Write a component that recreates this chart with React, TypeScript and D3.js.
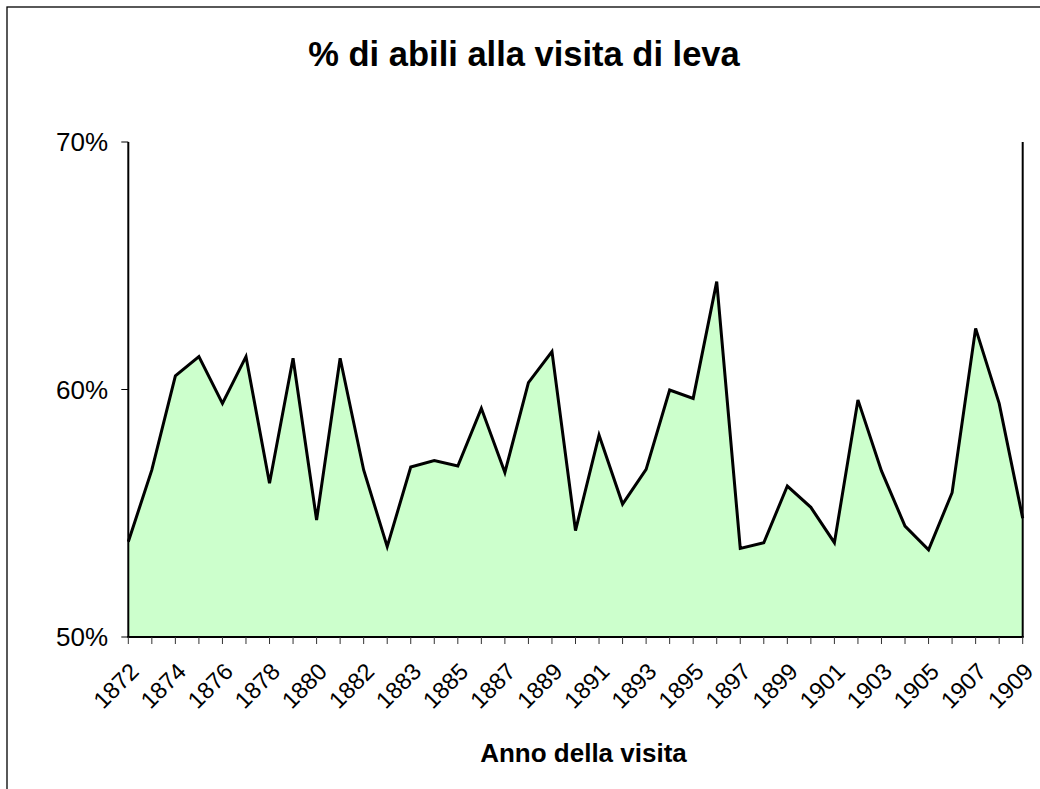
import React from "react";
import * as d3 from "d3";

const categories: string[] = [
  "1872", "1873", "1874", "1875", "1876", "1877", "1878", "1879", "1880", "1881",
  "1882", "1882", "1883", "1884", "1885", "1886", "1887", "1888", "1889", "1890",
  "1891", "1892", "1893", "1894", "1895", "1896", "1897", "1898", "1899", "1900",
  "1901", "1902", "1903", "1904", "1905", "1906", "1907", "1908", "1909",
];

const abili: number[] = [
  53.85, 56.75, 60.55, 61.33, 59.44, 61.33, 56.21, 61.26, 54.73, 61.26,
  56.75, 53.65, 56.87, 57.13, 56.91, 59.24, 56.65, 60.28, 61.53, 54.30,
  58.16, 55.37, 56.77, 59.98, 59.64, 64.36, 53.58, 53.81, 56.10, 55.24,
  53.81, 59.58, 56.71, 54.48, 53.52, 55.83, 62.47, 59.44, 54.80,
];

const yTicks: number[] = [50, 60, 70];

const title = "% di abili alla visita di leva";
const xTitle = "Anno della visita";

export default function App() {
  const W = 1040;
  const H = 789;
  const left = 128.3;
  const right = 1022.7;
  const top = 142;
  const bottom = 637;
  const font = "'Liberation Sans', Arial, Helvetica, sans-serif";

  const x = d3.scaleLinear().domain([0, categories.length - 1]).range([left, right]);
  const y = d3.scaleLinear().domain([50, 70]).range([bottom, top]);

  const area = d3
    .area<number>()
    .x((_, i) => x(i))
    .y0(y(50))
    .y1((d) => y(d));
  const line = d3
    .line<number>()
    .x((_, i) => x(i))
    .y((d) => y(d));

  return (
    <svg
      width={W}
      height={H}
      style={{ position: "absolute", left: 0, top: 0, background: "#fff" }}
    >
      <rect x={0} y={0} width={W} height={H} fill="#fff" />
      <rect x={7} y={7} width={1040} height={800} fill="none" stroke="#000" strokeWidth={1.3} />
      <text
        x={524}
        y={66}
        textAnchor="middle"
        fontFamily={font}
        fontWeight="bold"
        fontSize={34.5}
      >
        {title}
      </text>

      <path d={area(abili) || ""} fill="#CCFFCC" stroke="none" />
      <path d={line(abili) || ""} fill="none" stroke="#000" strokeWidth={3} strokeLinejoin="miter" />

      {/* axes */}
      <line x1={left} x2={left} y1={top} y2={bottom} stroke="#000" strokeWidth={2} />
      <line x1={right} x2={right} y1={top} y2={bottom} stroke="#000" strokeWidth={2} />
      <line x1={left - 1} x2={right + 1} y1={bottom} y2={bottom} stroke="#000" strokeWidth={2} />

      {yTicks.map((t) => (
        <g key={t}>
          <line x1={left - 7} x2={left} y1={y(t)} y2={y(t)} stroke="#000" strokeWidth={1} />
          <text
            x={108}
            y={y(t)}
            dy="0.36em"
            textAnchor="end"
            fontFamily={font}
            fontSize={26}
          >
            {t}%
          </text>
        </g>
      ))}

      {categories.map((c, i) => (
        <line
          key={"t" + i}
          x1={x(i)}
          x2={x(i)}
          y1={bottom}
          y2={bottom + 7}
          stroke="#333"
          strokeWidth={1}
        />
      ))}
      {categories.map((c, i) =>
        i % 2 === 0 ? (
          <text
            key={"l" + i}
            transform={`translate(${x(i) + 12},${673}) rotate(-45)`}
            textAnchor="end"
            fontFamily={font}
            fontSize={23.5}
          >
            {c}
          </text>
        ) : null
      )}

      <text
        x={(left + right) / 2 + 8}
        y={762}
        textAnchor="middle"
        fontFamily={font}
        fontWeight="bold"
        fontSize={26}
      >
        {xTitle}
      </text>
    </svg>
  );
}
